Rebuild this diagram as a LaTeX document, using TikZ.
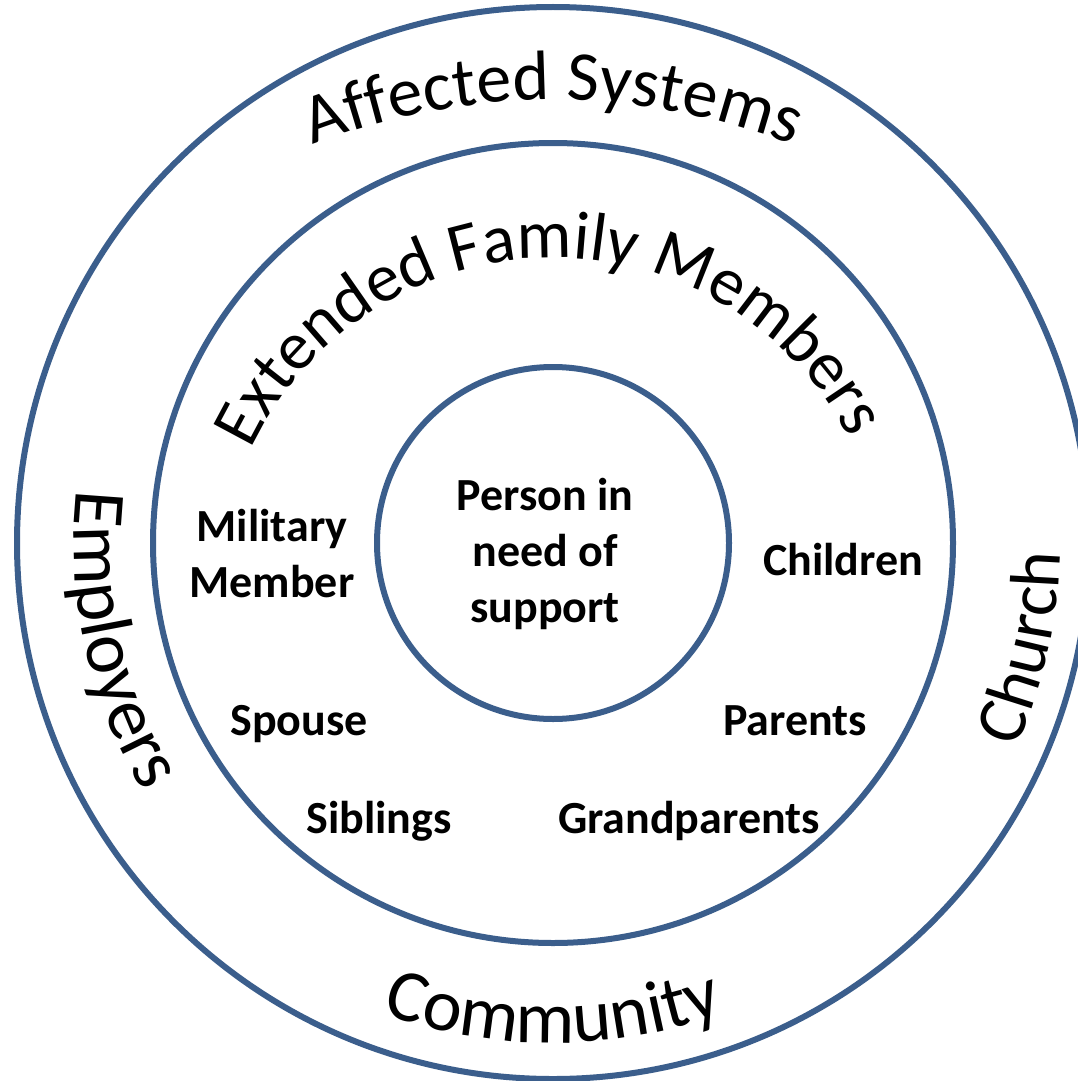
\documentclass[tikz,border=0pt]{standalone}
\usepackage{fontspec}
\setmainfont{Carlito}
\usetikzlibrary{decorations.text}
\definecolor{ringblue}{RGB}{59,94,140}
\newcommand{\curvefont}{\fontsize{70pt}{84pt}\selectfont}
\newcommand{\curvefontb}{\fontsize{74pt}{88pt}\selectfont}
\newcommand{\curvefontc}{\fontsize{68.5pt}{82pt}\selectfont}
\newcommand{\lblfont}{\bfseries\fontsize{46pt}{56pt}\selectfont}
\begin{document}
\begin{tikzpicture}[x=1pt,y=1pt,
  ring/.style={circle, draw=ringblue, line width=6pt, inner sep=0pt},
  lbl/.style={font=\lblfont, align=center, inner sep=0pt, text=black},
  curvetext/.style={decorate, decoration={text along path, text align=center, text={|\curvefont|#1}}},
  curvetextb/.style={decorate, decoration={text along path, text align=center, text={|\curvefontb|#1}}},
  curvetextc/.style={decorate, decoration={text along path, text align=center, text={|\curvefontc|#1}}}]
\useasboundingbox (0,0) rectangle (1078,-1081);
\clip (0,0) rectangle (1078,-1081);
\fill[white] (0,0) rectangle (1078,-1081);
\coordinate (c) at (553,-543);
\node[ring, minimum size=1072pt] (outer) at (c) {};
\node[ring, minimum size=800pt] (middle) at (c) {};
\node[ring, minimum size=352pt] (inner) at (c) {};
% curved texts
\path[curvetext={Affected Systems}] (553,-760) ++(120:660) arc[start angle=120, end angle=60, radius=660];
\path[curvetextc={Extended Family Members}] (553,-592) ++(171:334) arc[start angle=171, end angle=11, radius=334];
\path[curvetextb={Community}] (c) ++(240:500) arc[start angle=240, end angle=300, radius=500];
\path[curvetextb={Employers}] (c) ++(162.5:479) arc[start angle=162.5, end angle=222.5, radius=479];
\path[curvetext={Church}] (c) ++(-42.5:507) arc[start angle=-42.5, end angle=17.5, radius=507];
% labels
\node[lbl] (person) at (545,-554) {Person in\\need of\\support};
\node[lbl] (military) at (272,-554) {Military\\Member};
\node[lbl, anchor=base] (children) at (843,-575) {Children};
\node[lbl, anchor=base] (spouse) at (299,-735) {Spouse};
\node[lbl, anchor=base] (parents) at (795,-735) {Parents};
\node[lbl, anchor=base] (siblings) at (379,-833) {Siblings};
\node[lbl, anchor=base] (grand) at (689,-833) {Grandparents};
\end{tikzpicture}
\end{document}
